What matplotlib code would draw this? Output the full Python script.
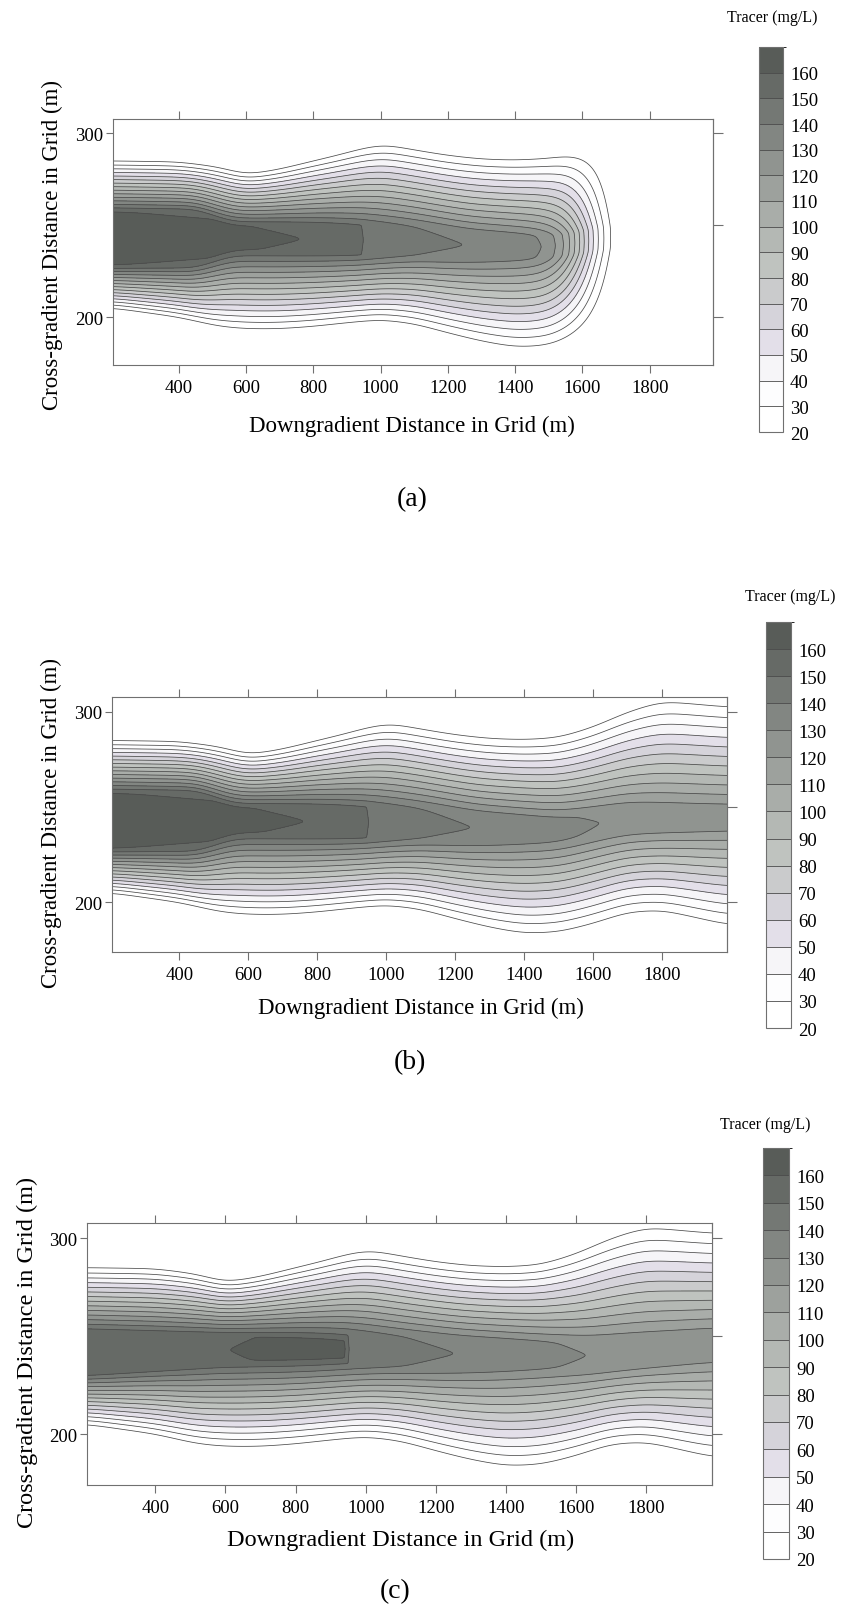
import math

import numpy as np
import matplotlib

matplotlib.use("Agg")
import matplotlib.pyplot as plt
from matplotlib.colors import ListedColormap, BoundaryNorm

plt.rcParams["font.family"] = ["Liberation Serif", "DejaVu Serif"]

# ---------------------------------------------------------------------------
# Contour levels and fill colours (mg/L)
# ---------------------------------------------------------------------------
levels = np.arange(20, 171, 10)
cbar_ticks = np.arange(20, 161, 10)
band_colors = [
    "#ffffff", "#fdfdfe", "#f6f5f8", "#e3dfe9", "#d5d3da", "#cacbcc",
    "#bfc3bf", "#b4b8b4", "#a9ada9", "#9da19d", "#909490", "#828682",
    "#747874", "#666a66", "#585c58",
]

# ---------------------------------------------------------------------------
# Plume geometry read along the flow path (m)
# ---------------------------------------------------------------------------
# outer 20 mg/L contour, upper and lower side
env_top_x = [205, 400, 520, 600, 700, 800, 870, 950, 1010, 1100, 1200, 1300,
             1400, 1500, 1600, 1700, 1800, 1900, 1990]
env_top = [285, 284.5, 281.7, 277.5, 280.5, 285, 288, 292, 294, 291, 288, 286,
           285.4, 286.5, 292, 300, 305.5, 304, 302.5]
env_bot_x = [205, 400, 520, 600, 700, 800, 900, 1000, 1100, 1200, 1300, 1400,
             1500, 1600, 1700, 1800, 1900, 1990]
env_bot = [205, 200, 195, 193.7, 193.7, 195, 197, 198.7, 196.5, 191.5, 187,
           183.8, 184.5, 189, 195, 196, 192, 188.3]

# high-concentration core (half-width, centre line, peak), runs (a) and (b)
core_half_x_ab = [205, 450, 560, 940, 1262, 1631, 1990]
core_half_ab = [16.5, 16, 9.3, 9.3, 6.5, 5.5, 5.5]
core_mid_x_ab = [205, 800, 1100, 1262, 1500, 1700, 1990]
core_mid_ab = [243, 242.5, 241.6, 239, 238, 244, 244.5]
peak_x_ab = [205, 540, 782, 940, 955, 1262, 1631, 1990]
peak_ab = [166, 164, 160, 156, 146, 140, 130, 125]

# high-concentration core, run (c)
core_half_x_c = [205, 586, 943, 1269, 1641, 1990]
core_half_c = [12, 9, 8.5, 7, 6.5, 7]
core_mid_x_c = [205, 600, 943, 1269, 1641, 1990]
core_mid_c = [241.8, 243, 243.5, 241, 240, 245.5]
peak_x_c = [205, 586, 700, 940, 955, 1269, 1641, 1990]
peak_c = [159, 159.5, 163, 164, 146, 140, 130, 125.5]

# leading edge of the plume in run (a): position and length scale
front_a = (1612.0, 100.0)

x_ticks = [400, 600, 800, 1000, 1200, 1400, 1600, 1800]
y_ticks_left = [200, 300]
y_ticks_right = [200, 250, 300]
x_lim = (205, 1988)
y_lim = (174, 307.8)

K_IN = 0.4      # gentle slope inside the core (mg/L per m)
H_MIN = 1.0     # rounding where the core meets the flanks (mg/L)
FOOT = 12.0     # rounding of the outer foot (mg/L)
C20 = FOOT * math.log(math.exp(20.0 / FOOT) - 1.0)

DX = 3.0
xg = np.arange(205, 1990.1, DX)
yg = np.arange(172, 310.01, 0.4)
erfc = np.vectorize(math.erfc)


def smooth(v, sigma):
    n = int(3 * sigma / DX)
    k = np.exp(-0.5 * (np.arange(-n, n + 1) * DX / sigma) ** 2)
    k /= k.sum()
    return np.convolve(np.pad(v, n, mode="edge"), k, mode="valid")


def tracer_field(peak_x, peak, half_x, half, mid_x, mid, front=None):
    amp_line = np.interp(xg, peak_x, peak)
    amp = smooth(amp_line, 6)[None, :]
    anchor = smooth(np.minimum(150.0, amp_line - 2.0), 100)[None, :]
    b = smooth(np.interp(xg, half_x, half), 30)[None, :]
    yc = smooth(np.interp(xg, mid_x, mid), 40)[None, :]
    top = smooth(np.interp(xg, env_top_x, env_top), 35)[None, :]
    bot = smooth(np.interp(xg, env_bot_x, env_bot), 35)[None, :]

    # flanks: anchor value at the core edge, 20 mg/L on the outer contour
    k_top = (anchor - C20) / (top - yc - b)
    k_bot = (anchor - C20) / (yc - b - bot)

    Y = yg[:, None]
    d = np.sqrt((Y - yc) ** 2 + 1.0)
    k_out = np.where(Y >= yc, k_top, k_bot)
    flank = anchor - k_out * (d - b)
    core = amp - K_IN * d
    c = -H_MIN * np.logaddexp(-flank / H_MIN, -core / H_MIN)
    c = FOOT * np.logaddexp(0.0, c / FOOT)
    if front is not None:
        xf, lf = front
        c = c * (0.5 * erfc((xg - xf) / lf))[None, :]
    return c


fields = [
    tracer_field(peak_x_ab, peak_ab, core_half_x_ab, core_half_ab,
                 core_mid_x_ab, core_mid_ab, front=front_a),
    tracer_field(peak_x_ab, peak_ab, core_half_x_ab, core_half_ab,
                 core_mid_x_ab, core_mid_ab),
    tracer_field(peak_x_c, peak_c, core_half_x_c, core_half_c,
                 core_mid_x_c, core_mid_c),
]

# ---------------------------------------------------------------------------
# Layout in pixels of an 848 x 1608 page
# ---------------------------------------------------------------------------
W, H = 848, 1608
panels = [
    dict(ax=(113, 120, 713, 366), cb=(759, 48, 783, 433), tracer=(772, 18),
         xlab=(412, 426), ylab=(52, 245), tag=(412, 500), name="(a)",
         labsize=16.5),
    dict(ax=(112, 698, 727, 953), cb=(766, 623, 791, 1029), tracer=(790, 597),
         xlab=(421, 1008), ylab=(51, 823), tag=(410, 1063), name="(b)",
         labsize=16.5),
    dict(ax=(87, 1224, 712, 1486), cb=(763, 1149, 789, 1560), tracer=(765, 1125),
         xlab=(401, 1540), ylab=(27, 1352), tag=(395, 1592), name="(c)",
         labsize=17.5),
]


def rect(l, t, r, b):
    return [l / W, 1 - b / H, (r - l) / W, (b - t) / H]


def fxy(x, y):
    return x / W, 1 - y / H


cmap = ListedColormap(band_colors)
norm = BoundaryNorm(levels, cmap.N)
frame = "#707070"

fig = plt.figure(figsize=(W / 100, H / 100), dpi=100, facecolor="white")

for spec, field in zip(panels, fields):
    ax = fig.add_axes(rect(*spec["ax"]))
    cf = ax.contourf(xg, yg, field, levels=levels, cmap=cmap, norm=norm)
    ax.contour(xg, yg, field, levels=levels[:-1], colors="#4a4a4a",
               linewidths=0.55)
    ax.set_xlim(*x_lim)
    ax.set_ylim(*y_lim)

    ax.set_xticks(x_ticks)
    ax.set_yticks(y_ticks_left)
    ax.tick_params(axis="x", direction="out", top=True, length=6, width=0.8,
                   color=frame, labelsize=13.5, pad=4)
    ax.tick_params(axis="y", direction="out", length=5, width=0.8,
                   color=frame, labelsize=13.5, pad=2)
    for sp in ax.spines.values():
        sp.set_color(frame)
        sp.set_linewidth(0.8)

    right = ax.secondary_yaxis("right")
    right.set_yticks(y_ticks_right)
    right.tick_params(direction="out", length=7, width=0.8, color=frame,
                      labelright=False)
    right.spines["right"].set_color(frame)
    right.spines["right"].set_linewidth(0.8)

    fig.text(*fxy(*spec["xlab"]), "Downgradient Distance in Grid (m)",
             ha="center", va="center", fontsize=spec["labsize"])
    fig.text(*fxy(*spec["ylab"]), "Cross-gradient Distance in Grid (m)",
             ha="center", va="center", rotation=90, fontsize=spec["labsize"])
    fig.text(*fxy(*spec["tag"]), spec["name"], ha="center", va="center",
             fontsize=20)

    cax = fig.add_axes(rect(*spec["cb"]))
    cb = fig.colorbar(cf, cax=cax, ticks=cbar_ticks, drawedges=True)
    cb.dividers.set_color("#4a4a4a")
    cb.dividers.set_linewidth(0.6)
    cb.outline.set_edgecolor(frame)
    cb.outline.set_linewidth(0.8)
    cax.tick_params(length=0, labelsize=13.5, pad=5)
    fig.text(*fxy(*spec["tracer"]), "Tracer (mg/L)", ha="center",
             va="center", fontsize=11.5)

fig.savefig("out.png", dpi=100, facecolor="white")
